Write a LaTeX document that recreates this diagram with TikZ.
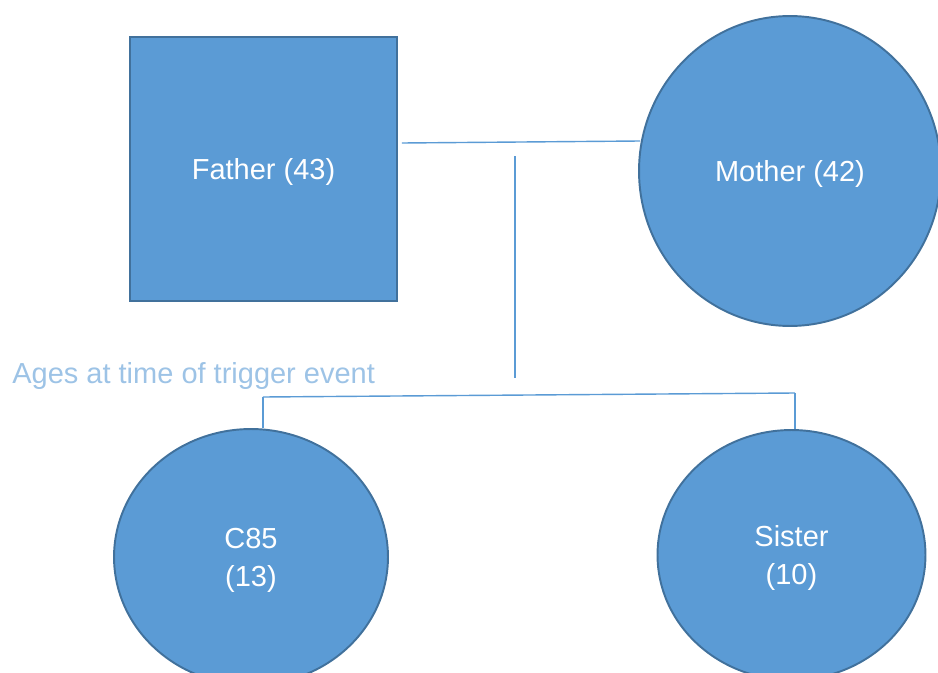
\documentclass[tikz,border=0pt]{standalone}
\usepackage{fontspec}
\setmainfont{Liberation Sans}
\usepackage{xcolor}
\usepackage{tikz}
\usetikzlibrary{positioning, shapes.geometric, calc}
\definecolor{famfill}{HTML}{5B9BD5}
\definecolor{famedge}{HTML}{41719C}
\definecolor{famnote}{HTML}{9DC3E6}

\begin{document}
\begin{tikzpicture}[
    x=0.02cm, y=-0.02cm,
    male/.style={rectangle, draw=famedge, fill=famfill, line width=1.1pt, minimum width=5.34cm, minimum height=5.28cm, align=center, text=white, text depth=0pt, font=\fontsize{16.5}{21.5}\selectfont},
    female/.style={ellipse, draw=famedge, fill=famfill, line width=1.1pt, inner sep=0pt, align=center, text=white, text depth=0pt, font=\fontsize{16.5}{21.5}\selectfont},
    link/.style={draw=famfill, line width=0.8pt},
    note/.style={text=famnote, inner sep=0pt, font=\fontsize{16.5}{21.5}\selectfont},
]
\useasboundingbox (0,0) rectangle (938,673);
\node[male] (father) at (263.5,169) {Father (43)};
\node[female, minimum width=6.04cm, minimum height=6.2cm] (mother) at (790,171) {Mother (42)};
\node[female, minimum width=5.48cm, minimum height=5.12cm] (c85) at (251,557) {C85\\(13)};
\node[female, minimum width=5.36cm, minimum height=5.0cm] (sister) at (791.5,555) {Sister\\(10)};
\node[note, anchor=base west] (ages) at (12,383) {Ages at time of trigger event};

\coordinate (famtop) at (515,156);
\coordinate (fambot) at (515,378);
\coordinate (sibL) at (263,397);
\coordinate (sibR) at (795,393);

\draw[link] ([shift={(4,-26)}]father.east) -- ([shift={(2,-30)}]mother.west);
\draw[link] (famtop) -- (fambot);
\draw[link] (sibL) -- (sibR);
\draw[link] (sibL) -- (sibL |- c85.north);
\draw[link] (sibR) -- (sibR |- sister.north);
\end{tikzpicture}
\end{document}
